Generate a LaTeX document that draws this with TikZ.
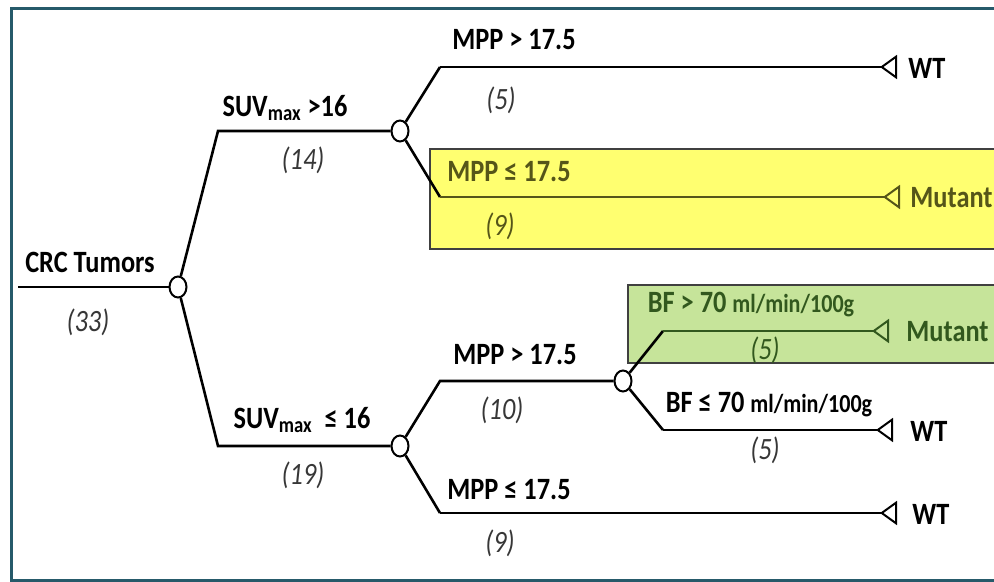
\documentclass[tikz,border=0pt]{standalone}
\usepackage{fontspec}
\setmainfont{Carlito}[FakeStretch=0.85]
\usepackage{xcolor}
\usetikzlibrary{arrows.meta,shapes.geometric}
\definecolor{framecol}{RGB}{38,90,106}
\definecolor{mutyellow}{RGB}{255,255,112}
\definecolor{mutgreen}{RGB}{198,228,154}
\definecolor{yellowink}{RGB}{85,85,25}
\definecolor{greenink}{RGB}{50,88,30}
\definecolor{countgray}{RGB}{55,55,55}
\newcommand{\unitfont}{\fontsize{13}{15}\selectfont}

\begin{document}
\begin{tikzpicture}[x=0.5pt,y=-0.5pt,
    branch/.style={line width=1.3pt,black},
    split/.style={ellipse,draw,line width=1pt,fill=white,inner sep=0pt,minimum width=8.5pt,minimum height=10.5pt},
    leaf/.style={branch,-{Triangle[open,reversed,length=8.5pt,width=12pt,line width=1pt]}},
    cond/.style={font=\bfseries\fontsize{15.5}{17}\selectfont},
    count/.style={font=\itshape\fontsize{15.5}{17}\selectfont,text=countgray},
    outcome/.style={anchor=west,inner sep=0pt,font=\bfseries\fontsize{15.5}{17}\selectfont},
    boxed/.style={draw=black!75,line width=1pt}]
        \clip (0,0) rectangle (994,582);
        \fill[white] (0,0) rectangle (994,582);
        \draw[framecol,line width=1.5pt] (1000,8.5) -- (11.5,8.5) -- (11.5,580.5) -- (1000,580.5);

        % highlighted outcomes
        \filldraw[boxed,fill=mutyellow] (430,149) rectangle (1000,249);
        \filldraw[boxed,fill=mutgreen] (628,285) rectangle (1000,363);

        % root
        \coordinate (start) at (18,287);
        \node[split] (c0) at (178,287) {};
        \draw[branch] (start) -- (c0);
        \node[cond] (lroot) at (90,262) {CRC Tumors};
        \node[count] (nroot) at (88,322) {(33)};

        % SUVmax > 16
        \coordinate (k1) at (218,131);
        \node[split] (c1) at (400,131) {};
        \draw[branch] (c0) -- (k1) -- (c1);
        \node[cond] (l1) at (285,108) {SUV\textsubscript{\fontsize{11}{11}\selectfont max} >16};
        \node[count] (n1) at (303,160) {(14)};

        \coordinate (k11) at (440,67);
        \node[outcome] (o11) at (908,68) {WT};
        \draw[branch] (c1) -- (k11);
        \draw[leaf] (k11) -- (897,67);
        \node[cond] (l11) at (514,40) {MPP > 17.5};
        \node[count] (n11) at (501,100) {(5)};

        \coordinate (k12) at (440,197);
        \node[outcome,text=yellowink] (o12) at (910,198) {Mutant};
        \draw[branch] (c1) -- (k12);
        \draw[leaf,yellowink] (k12) -- (900,197);
        \node[cond,text=yellowink] (l12) at (509,172) {MPP ≤ 17.5};
        \node[count,text=yellowink] (n12) at (500,226) {(9)};

        % SUVmax <= 16
        \coordinate (k2) at (218,446);
        \node[split] (c2) at (400,446) {};
        \draw[branch] (c0) -- (k2) -- (c2);
        \node[cond] (l2) at (302,420) {SUV\textsubscript{\fontsize{11}{11}\selectfont max} \ ≤ 16};
        \node[count] (n2) at (303,475) {(19)};

        \coordinate (k21) at (440,381);
        \node[split] (c3) at (623,381) {};
        \draw[branch] (c2) -- (k21) -- (c3);
        \node[cond] (l21) at (515,355) {MPP > 17.5};
        \node[count] (n21) at (502,410) {(10)};

        \coordinate (k22) at (440,513);
        \node[outcome] (o22) at (912,514) {WT};
        \draw[branch] (c2) -- (k22);
        \draw[leaf] (k22) -- (897,513);
        \node[cond] (l22) at (509,490) {MPP ≤ 17.5};
        \node[count] (n22) at (500,543) {(9)};

        % blood flow split
        \coordinate (k31) at (663,331);
        \node[outcome,text=greenink] (o31) at (906,332) {Mutant};
        \draw[branch] (c3) -- (k31);
        \draw[leaf,greenink] (k31) -- (889,331);
        \node[cond,text=greenink] (l31) at (751,305) {BF > 70 {\unitfont ml/min/100g}};
        \node[count,text=greenink] (n31) at (765,350) {(5)};

        \coordinate (k32) at (663,430);
        \node[outcome] (o32) at (910,431) {WT};
        \draw[branch] (c3) -- (k32);
        \draw[leaf] (k32) -- (893,430);
        \node[cond] (l32) at (769,405) {BF ≤ 70 {\unitfont ml/min/100g}};
        \node[count] (n32) at (765,450) {(5)};
    \end{tikzpicture}
\end{document}
